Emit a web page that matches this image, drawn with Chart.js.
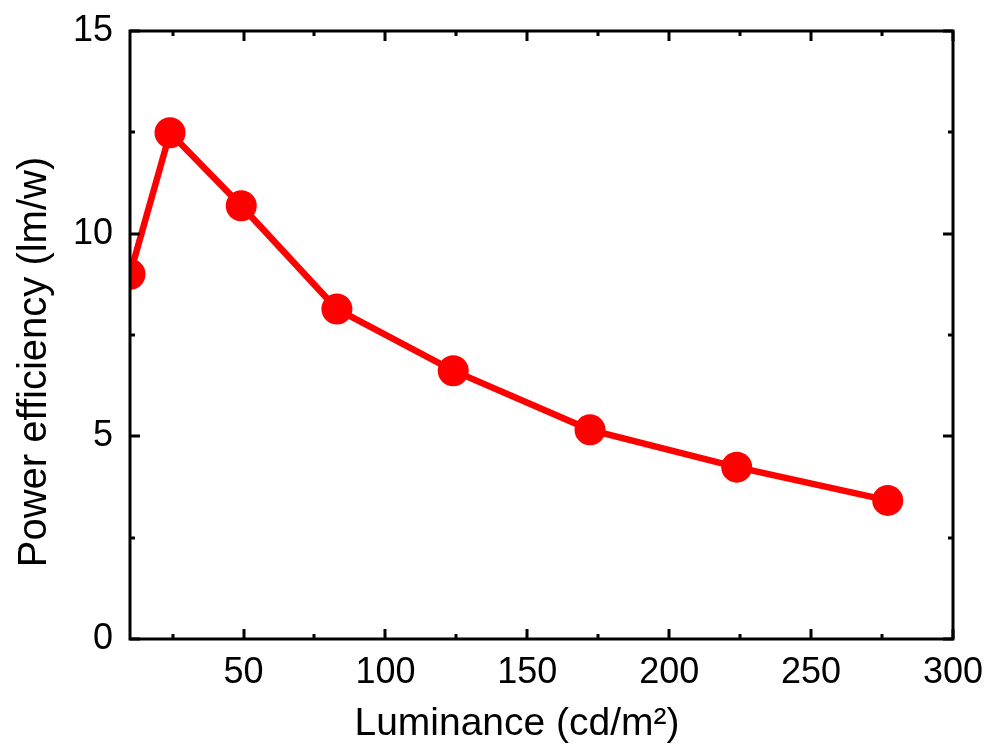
<!DOCTYPE html>
<html>
<head>
<meta charset="utf-8">
<script src="https://cdn.jsdelivr.net/npm/chart.js@4.4.1/dist/chart.umd.min.js"></script>
<style>
  html, body { margin: 0; padding: 0; background: #fff; }
  #wrap { width: 991px; height: 744px; }
</style>
</head>
<body>
<div id="wrap"><canvas id="peChart" width="991" height="744"></canvas></div>
<script>
// data
const luminance = [10, 24.1, 49.2, 82.9, 123.9, 172.1, 223.8, 277.0];
const powerEff = [9.0, 12.49, 10.69, 8.14, 6.62, 5.16, 4.24, 3.42];

const xMajorTicks = [50, 100, 150, 200, 250, 300];
const xMinorTicks = [25, 75, 125, 175, 225, 275];
const yMajorTicks = [0, 5, 10, 15];
const yMinorTicks = [2.5, 7.5, 12.5];

const xTitle = 'Luminance (cd/m\u00B2)';
const yTitle = 'Power efficiency (lm/w)';

const FONT = '"Liberation Sans", Arial, sans-serif';

// frame + inward ticks on all four sides, plus axis titles
const framePlugin = {
    id: 'frame',
    afterDraw(chart) {
        const c = chart.ctx;
        const a = chart.chartArea;
        const xs = chart.scales.x, ys = chart.scales.y;
        c.save();
        c.strokeStyle = '#000';
        c.lineWidth = 3;
        c.beginPath();
        xMajorTicks.concat(xMinorTicks).forEach(v => {
            const len = xMajorTicks.includes(v) ? 10 : 5;
            const px = Math.round(xs.getPixelForValue(v));
            c.moveTo(px, a.bottom); c.lineTo(px, a.bottom - len);
            c.moveTo(px, a.top); c.lineTo(px, a.top + len);
        });
        yMajorTicks.concat(yMinorTicks).forEach(v => {
            const len = yMajorTicks.includes(v) ? 10 : 5;
            const py = Math.round(ys.getPixelForValue(v));
            c.moveTo(a.left, py); c.lineTo(a.left + len, py);
            c.moveTo(a.right, py); c.lineTo(a.right - len, py);
        });
        c.stroke();
        c.lineJoin = 'miter';
        c.strokeRect(a.left, a.top, a.right - a.left, a.bottom - a.top);

        c.fillStyle = '#000';
        c.textAlign = 'center';
        c.textBaseline = 'alphabetic';
        c.font = '39px ' + FONT;
        c.fillText(xTitle, 517, 735);
        c.font = '40px ' + FONT;
        c.translate(46, 362);
        c.rotate(-Math.PI / 2);
        c.fillText(yTitle, 0, 0);
        c.restore();
    }
};

const ctx = document.getElementById('peChart').getContext('2d');
new Chart(ctx, {
    type: 'line',
    data: {
        datasets: [{
            data: luminance.map((x, i) => ({ x: x, y: powerEff[i] })),
            borderColor: '#ff0000',
            backgroundColor: '#ff0000',
            borderWidth: 6.5,
            pointRadius: 15.5,
            pointHoverRadius: 15.5,
            pointBorderWidth: 0,
            tension: 0,
            clip: 0
        }]
    },
    options: {
        responsive: false,
        animation: false,
        events: [],
        layout: { padding: { left: 0, top: 31, right: 38, bottom: 0 } },
        plugins: {
            legend: { display: false },
            tooltip: { enabled: false }
        },
        scales: {
            x: {
                type: 'linear',
                min: 10,
                max: 300,
                grid: { display: false, drawTicks: false },
                border: { display: false },
                afterBuildTicks: s => { s.ticks = xMajorTicks.map(v => ({ value: v })); },
                afterFit: s => {
                    s.height = 105;
                    s.paddingLeft = 0; s.paddingRight = 0;
                },
                ticks: {
                    color: '#000',
                    padding: 12,
                    maxRotation: 0,
                    font: { family: FONT, size: 36 }
                }
            },
            y: {
                min: 0,
                max: 15,
                grid: { display: false, drawTicks: false },
                border: { display: false },
                afterBuildTicks: s => { s.ticks = yMajorTicks.map(v => ({ value: v })); },
                afterFit: s => {
                    s.width = 130;
                    s.paddingTop = 0; s.paddingBottom = 0;
                },
                ticks: {
                    color: '#000',
                    padding: 17,
                    font: { family: FONT, size: 36 }
                }
            }
        }
    },
    plugins: [framePlugin]
});
</script>
</body>
</html>
